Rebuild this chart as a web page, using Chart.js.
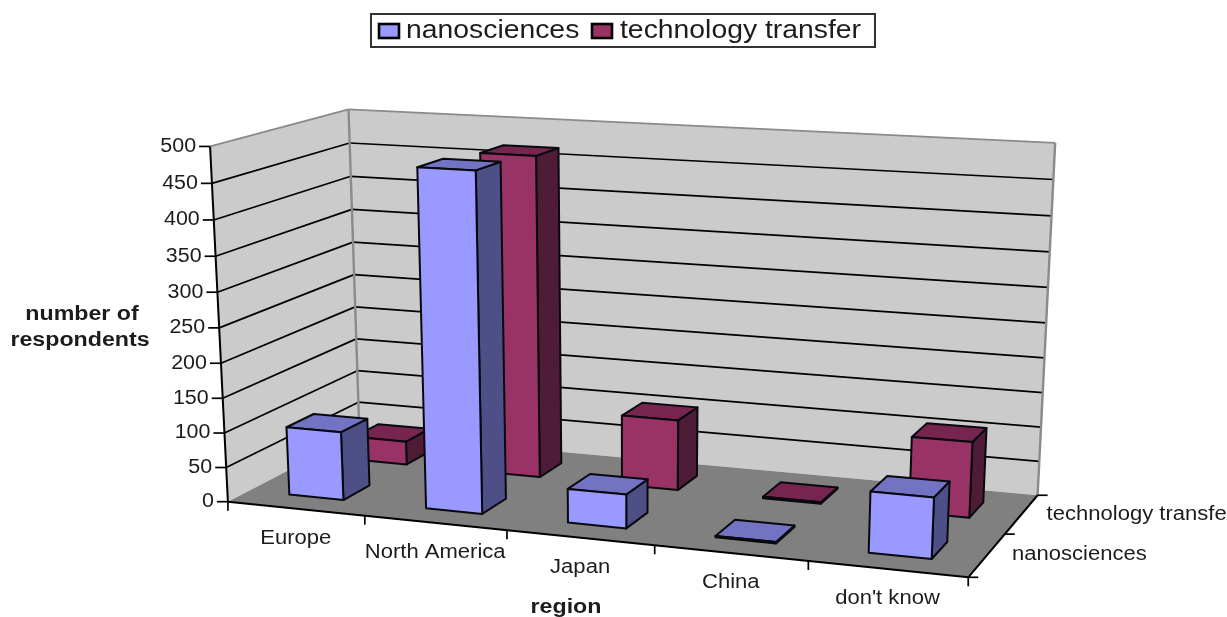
<!DOCTYPE html>
<html>
<head>
<meta charset="utf-8">
<title>respondents by region</title>
<script src="https://cdn.jsdelivr.net/npm/chart.js@4/dist/chart.umd.min.js"></script>
<style>
  html, body { margin: 0; padding: 0; background: #fff; overflow: hidden; }
  canvas { display: block; filter: blur(0.6px); }
</style>
</head>
<body>
<canvas id="chart" width="1227" height="617"></canvas>
<script>
const regions = ['Europe', 'North America', 'Japan', 'China', "don't know"];
const seriesNames = ['nanosciences', 'technology transfer'];
const nanosciences = [99, 477, 48, 2, 84];
const technologyTransfer = [35, 468, 103, 2, 108];

const frontColors = ['#9999ff', '#993366'];
const topColors = ['#7373c4', '#76264e'];
const sideColors = ['#4f4f88', '#4f1c37'];

const FONT = '"Liberation Sans", Arial, sans-serif';
const TEXT = '#1c1c1c';

// where the 3D box of the plot lands on the page: [category, value, depth, px, py]
const viewPoints = [
  [0, 0, 0, 229, 500], [0.2, 0, 0, 364, 515], [0.4, 0, 0, 507, 531],
  [0.6, 0, 0, 655, 546], [0.8, 0, 0, 807, 562], [1, 0, 0, 968, 577],
  [0, 0, 1, 359, 435], [1, 0, 1, 1037, 494], [1, 0, 0.5, 1007, 533],
  [0, 1, 0, 210, 146], [0, 0.5, 0, 219, 329], [0, 1, 1, 349, 109],
  [0, 0.5, 1, 354, 274], [1, 1, 1, 1055, 143], [1, 0.5, 1, 1046, 324]
];

// least squares fit of a perspective projection to the points above
function fitView(points) {
  const rows = [];
  points.forEach(([u, v, d, x, y]) => {
    rows.push([u, v, d, 1, 0, 0, 0, 0, -x * u, -x * v, -x * d, x]);
    rows.push([0, 0, 0, 0, u, v, d, 1, -y * u, -y * v, -y * d, y]);
  });
  const n = 11;
  const m = [];
  for (let i = 0; i < n; i++) {
    m[i] = [];
    for (let j = 0; j <= n; j++) {
      m[i][j] = rows.reduce((sum, r) => sum + r[i] * r[j], 0);
    }
  }
  for (let i = 0; i < n; i++) {
    let best = i;
    for (let k = i + 1; k < n; k++) if (Math.abs(m[k][i]) > Math.abs(m[best][i])) best = k;
    [m[i], m[best]] = [m[best], m[i]];
    for (let k = 0; k < n; k++) {
      if (k === i) continue;
      const f = m[k][i] / m[i][i];
      for (let j = i; j <= n; j++) m[k][j] -= f * m[i][j];
    }
  }
  return m.map((r, i) => r[n] / r[i]);
}

const view = fitView(viewPoints);

function project(u, v, d) {
  const w = view[8] * u + view[9] * v + view[10] * d + 1;
  return [
    (view[0] * u + view[1] * v + view[2] * d + view[3]) / w,
    (view[4] * u + view[5] * v + view[6] * d + view[7]) / w
  ];
}

function poly(ctx, pts, fill, stroke, width) {
  ctx.beginPath();
  pts.forEach((p, i) => (i ? ctx.lineTo(p[0], p[1]) : ctx.moveTo(p[0], p[1])));
  ctx.closePath();
  if (fill) { ctx.fillStyle = fill; ctx.fill(); }
  if (stroke) { ctx.strokeStyle = stroke; ctx.lineWidth = width; ctx.lineJoin = 'round'; ctx.stroke(); }
}

function line(ctx, a, b, color, width) {
  ctx.beginPath();
  ctx.moveTo(a[0], a[1]);
  ctx.lineTo(b[0], b[1]);
  ctx.strokeStyle = color;
  ctx.lineWidth = width;
  ctx.stroke();
}

// the source picture is stretched sideways, so the text is too
function label(ctx, str, x, y, font, align, stretch) {
  ctx.save();
  ctx.translate(x, y);
  ctx.scale(stretch, 1);
  ctx.font = font;
  ctx.fillStyle = TEXT;
  ctx.textAlign = align;
  ctx.textBaseline = 'middle';
  ctx.fillText(str, 0, 0);
  ctx.restore();
}

const box3d = {
  id: 'box3d',

  beforeDatasetsDraw(chart) {
    const ctx = chart.ctx;
    const { x: xs, y: ys, z: zs } = chart.scales;
    const vOf = val => (ys.bottom - ys.getPixelForValue(val)) / ys.height;
    const plain = `19.5px ${FONT}`;
    const bold = `bold 20px ${FONT}`;

    // walls and floor
    poly(ctx, [project(0, 0, 0), project(0, 1, 0), project(0, 1, 1), project(0, 0, 1)], '#cbcbcb');
    poly(ctx, [project(0, 0, 1), project(0, 1, 1), project(1, 1, 1), project(1, 0, 1)], '#cbcbcb');
    poly(ctx, [project(0, 0, 0), project(1, 0, 0), project(1, 0, 1), project(0, 0, 1)], '#808080');

    // gridlines and value axis
    ys.ticks.forEach(t => {
      const v = vOf(t.value);
      if (t.value > ys.min && t.value < ys.max) {
        line(ctx, project(0, v, 0), project(0, v, 1), '#000', 1.7);
        line(ctx, project(0, v, 1), project(1, v, 1), '#000', 1.7);
      }
      const p = project(0, v, 0);
      line(ctx, [p[0] - 11, p[1]], p, '#000', 1.7);
      label(ctx, String(t.value), p[0] - 14, p[1], plain, 'right', 1.1);
    });
    line(ctx, project(0, 1, 0), project(0, 1, 1), '#8a8a8a', 1.8);
    line(ctx, project(0, 1, 1), project(1, 1, 1), '#8a8a8a', 1.8);
    line(ctx, project(0, 0, 1), project(0, 1, 1), '#8a8a8a', 2.4);
    line(ctx, project(1, 0, 1), project(1, 1, 1), '#8a8a8a', 2.4);
    line(ctx, project(0, 0, 0), project(0, 1, 0), '#000', 2);

    // floor edges, category ticks and labels
    line(ctx, project(0, 0, 0), project(1, 0, 0), '#000', 2);
    line(ctx, project(1, 0, 0), project(1, 0, 1), '#000', 2);
    const cats = xs.getLabels();
    cats.forEach((name, i) => {
      const left = (xs.getPixelForValue(i) - xs.left) / xs.width - 0.5 / cats.length;
      const right = left + 1 / cats.length;
      const a = project(left, 0, 0);
      line(ctx, a, [a[0], a[1] + 9], '#000', 1.7);
      if (i === cats.length - 1) {
        const b = project(right, 0, 0);
        line(ctx, b, [b[0], b[1] + 9], '#000', 1.7);
      }
      const c = project((left + right) / 2, 0, 0);
      label(ctx, name, c[0], c[1] + 30, plain, 'center', 1.13);
    });

    // depth ticks and labels
    const depths = zs.getLabels();
    depths.forEach((name, i) => {
      const d = (zs.getPixelForValue(i) - zs.left) / zs.width;
      const near = project(1, 0, d - 0.5 / depths.length);
      line(ctx, near, [near[0] + 10, near[1]], '#000', 1.7);
      if (i === depths.length - 1) {
        const far = project(1, 0, d + 0.5 / depths.length);
        line(ctx, far, [far[0] + 10, far[1]], '#000', 1.7);
      }
      const c = project(1, 0, d);
      label(ctx, name, c[0] + 25, c[1], plain, 'left', 1.13);
    });

    // axis titles
    label(ctx, 'number of', 82, 314, bold, 'center', 1.16);
    label(ctx, 'respondents', 80, 340, bold, 'center', 1.16);
    label(ctx, 'region', 566, 607, bold, 'center', 1.16);

    // legend
    ctx.fillStyle = '#fff';
    ctx.fillRect(371, 14, 504, 33);
    ctx.strokeStyle = '#333';
    ctx.lineWidth = 2;
    ctx.strokeRect(371, 14, 504, 33);
    const legendX = [[379, 406], [592, 620]];
    chart.data.datasets.forEach((ds, i) => {
      ctx.fillStyle = ds.backgroundColor;
      ctx.fillRect(legendX[i][0], 24, 20, 14);
      ctx.strokeStyle = '#000';
      ctx.lineWidth = 2.6;
      ctx.strokeRect(legendX[i][0], 24, 20, 14);
      label(ctx, ds.label, legendX[i][1], 31, `26px ${FONT}`, 'left', 1.09);
    });
  },

  // the flat bars only give the layout, they are drawn as boxes below
  beforeDatasetDraw() {
    return false;
  },

  afterDatasetsDraw(chart) {
    const ctx = chart.ctx;
    const { x: xs, y: ys, z: zs } = chart.scales;
    const cell = zs.width / zs.getLabels().length;
    // back row first
    for (let di = chart.data.datasets.length - 1; di >= 0; di--) {
      const mid = zs.getPixelForValue(di);
      const d0 = (mid - 0.2 * cell - zs.left) / zs.width;
      const d1 = (mid + 0.2 * cell - zs.left) / zs.width;
      chart.getDatasetMeta(di).data.forEach(bar => {
        const u0 = (bar.x - bar.width / 2 - xs.left) / xs.width;
        const u1 = (bar.x + bar.width / 2 - xs.left) / xs.width;
        const v0 = (ys.bottom - bar.base) / ys.height;
        const v1 = (ys.bottom - bar.y) / ys.height;
        poly(ctx, [project(u1, v0, d0), project(u1, v0, d1), project(u1, v1, d1), project(u1, v1, d0)], sideColors[di], '#08080f', 2);
        poly(ctx, [project(u0, v1, d0), project(u1, v1, d0), project(u1, v1, d1), project(u0, v1, d1)], topColors[di], '#08080f', 2);
        poly(ctx, [project(u0, v0, d0), project(u1, v0, d0), project(u1, v1, d0), project(u0, v1, d0)], frontColors[di], '#08080f', 2);
      });
    }
  }
};

const chart = new Chart(document.getElementById('chart').getContext('2d'), {
  type: 'bar',
  data: {
    labels: regions,
    datasets: [
      { label: seriesNames[0], data: nanosciences, backgroundColor: frontColors[0] },
      { label: seriesNames[1], data: technologyTransfer, backgroundColor: frontColors[1] }
    ]
  },
  options: {
    responsive: false,
    animation: false,
    grouped: false,
    barPercentage: 0.4,
    categoryPercentage: 1,
    layout: { padding: 0 },
    plugins: { legend: { display: false }, tooltip: { enabled: false } },
    scales: {
      x: { display: false },
      y: { display: false, min: 0, max: 500, ticks: { stepSize: 50 } },
      z: { type: 'category', axis: 'x', display: false, offset: true, labels: seriesNames }
    }
  },
  plugins: [box3d]
});
</script>
</body>
</html>
